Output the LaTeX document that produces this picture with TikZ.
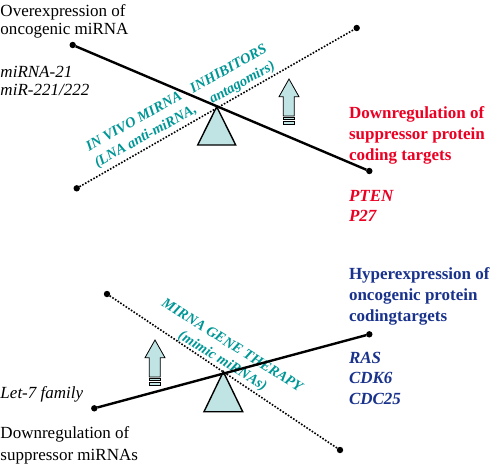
\documentclass[tikz,border=0pt]{standalone}
\usepackage{fontspec}
\setmainfont{Liberation Serif}
\usetikzlibrary{positioning}

\definecolor{therapyteal}{RGB}{0,150,150}
\definecolor{downred}{RGB}{235,0,35}
\definecolor{hyperblue}{RGB}{25,50,140}
\definecolor{paleaqua}{RGB}{192,228,228}

% striped block arrow, #1 = left x, #2 = top y
\newcommand{\stripearrow}[2]{%
\begin{scope}[shift={(#1,#2)}]
\draw[arrowbody] (10,0) -- (20,17.7) -- (15.3,17.7) -- (15.3,37) -- (4.3,37) -- (4.3,17.7) -- (0,17.7) -- cycle;
\draw[arrowbody] (4.3,38.6) rectangle (15.3,40.6);
\draw[arrowbody] (4.3,42.2) rectangle (15.3,45.6);
\end{scope}}

\begin{document}
\begin{tikzpicture}
[x=1pt, y=-1pt,
% STYLES
every node/.style={inner sep=0pt, outer sep=0pt},
% beam ends and beams
dot/.style={circle, fill=black, minimum size=6.4pt},
beam/.style={line width=2.4pt},
dotbeam/.style={line width=1.6pt, dash pattern=on 1.6pt off 1.6pt},
fulcrum/.style={draw, line width=1.4pt, fill=paleaqua, line join=miter},
arrowbody/.style={draw, line width=0.8pt, fill=paleaqua},
% text styles (base = baseline of the last line)
plaintext/.style={anchor=base west, align=left, font=\fontsize{17}{18}\selectfont},
mirtext/.style={plaintext, font=\fontsize{17}{18}\selectfont\itshape},
targettext/.style={plaintext, font=\fontsize{17}{20.8}\selectfont\bfseries},
genetext/.style={plaintext, font=\fontsize{17}{20.2}\selectfont\bfseries\itshape},
therapytext/.style={text=therapyteal, font=\fontsize{14.5}{18}\selectfont\bfseries\itshape}]

\useasboundingbox (0,0) rectangle (494,464);

% Upper balance
\draw[fulcrum] (216.7,106.7) -- (197.7,145) -- (235.7,145) -- cycle;
\node [dot] (oncoend) at (72.7,45) {};
\node [dot] (suppend) at (369.3,171) {};
\node [dot] (inhiblow) at (76.7,188.3) {};
\node [dot] (inhibhigh) at (356.7,28) {};
\stripearrow{279}{79}

% Lower balance
\draw[fulcrum] (223.3,371.7) -- (204,411.7) -- (242.7,411.7) -- cycle;
\node [dot] (letend) at (94.3,408.3) {};
\node [dot] (hyperend) at (369.3,334.3) {};
\node [dot] (mimichigh) at (107,294) {};
\node [dot] (mimiclow) at (340,450) {};
\stripearrow{145}{340}

%%%%%%%%%%%%%%%

% left texts
\node [plaintext] (overexpr) at (0.5,34) {Overexpression of\\oncogenic miRNA};
\node [mirtext] (oncomirs) at (0.5,95) {miRNA-21\\miR-221/222};
\node [mirtext] (letseven) at (0.5,398) {Let-7 family};
\node [plaintext, font=\fontsize{17}{21.5}\selectfont] (downsupp) at (0.5,460) {Downregulation of\\suppressor miRNAs};

% right texts
\node [targettext, text=downred] (downtargets) at (349,160.3) {Downregulation of\\suppressor protein\\coding targets};
\node [genetext, text=downred] (downgenes) at (349,221.7) {PTEN\\P27};
\node [targettext, text=hyperblue] (hypertargets) at (349,321) {Hyperexpression of\\oncogenic protein\\codingtargets};
\node [genetext, text=hyperblue] (hypergenes) at (349,404) {RAS\\CDK6\\CDC25};

% therapy texts
\node [therapytext, anchor=base west, rotate=29] (inhibone) at (89,151) {IN VIVO MIRNA\hspace{12pt}INHIBITORS};
\node [therapytext, anchor=base west, rotate=29] (inhibtwo) at (97.5,167.5) {(LNA anti-miRNA,\hspace{17pt}antagomirs)};
\node [therapytext, anchor=base, rotate=-32] (geneone) at (230,349) {MIRNA GENE THERAPY};
\node [therapytext, anchor=base, rotate=-32] (genetwo) at (220.5,364.3) {(mimic miRNAs)};

%%%%%%%%%%%%%%%%

\path[beam]
(oncoend) edge (suppend)
(letend) edge (hyperend);
\path[dotbeam]
(inhiblow) edge (inhibhigh)
(mimichigh) edge (mimiclow);

\end{tikzpicture}
\end{document}
